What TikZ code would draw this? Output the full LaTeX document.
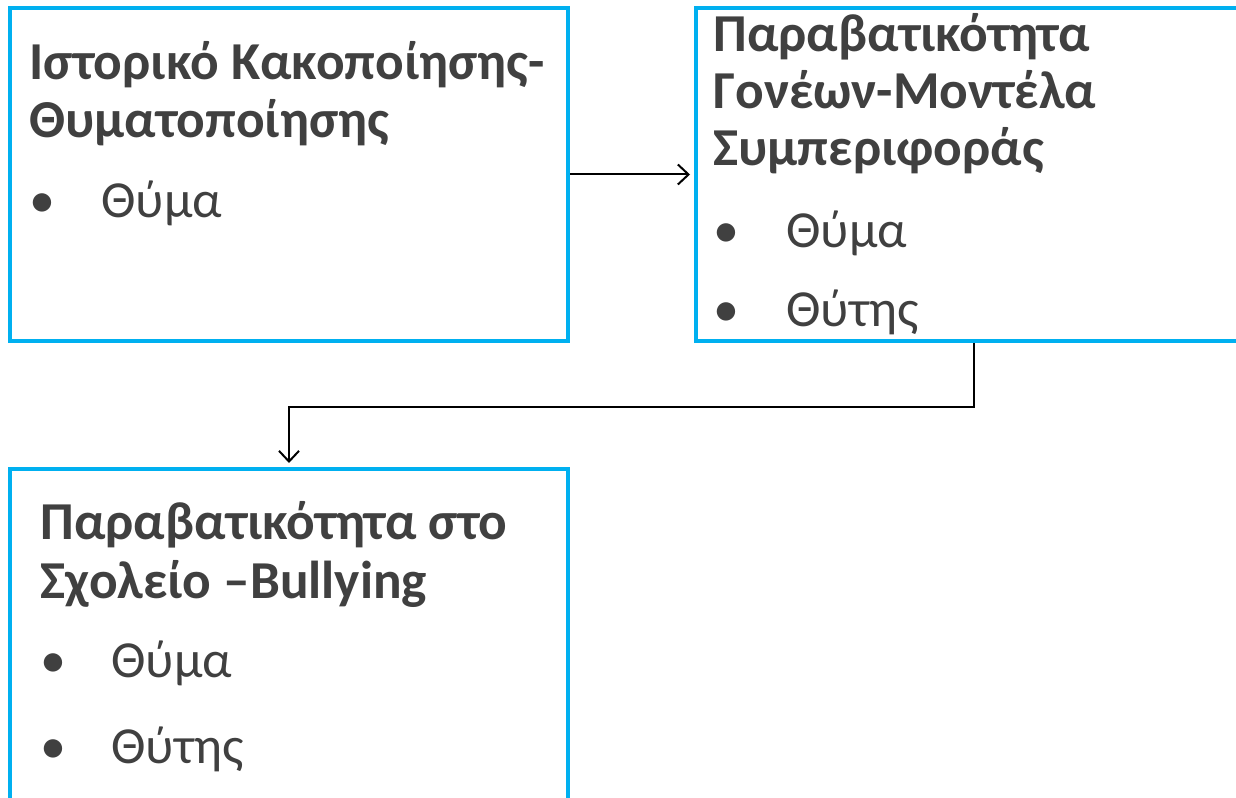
\documentclass[tikz,border=0pt]{standalone}
\usepackage{fontspec}
\setmainfont{Carlito}
\usetikzlibrary{arrows.meta}

\definecolor{boxblue}{RGB}{0,176,240}
\definecolor{txtgray}{RGB}{64,64,64}

\tikzset{every picture/.style={line width=0.75pt}}
\tikzset{
  box/.style={draw=boxblue, line width=3pt, rectangle, inner sep=0pt},
  head/.style={text=txtgray, font=\bfseries\fontsize{40}{46}\selectfont, anchor=base west, inner sep=0pt},
  item/.style={text=txtgray, font=\fontsize{39}{46}\selectfont, anchor=base west, inner sep=0pt},
  arr/.style={line width=1.5pt, -{Straight Barb[length=8pt,width=15pt]}, shorten >=3pt}
}

\begin{document}
\begin{tikzpicture}[x=0.75pt,y=0.75pt,yscale=-1,xscale=1]
\useasboundingbox (0,0) rectangle (1236,798);

%Shape: Rectangle [id:hist]
\node[box, minimum width=418.5pt, minimum height=249.75pt] (hist) at (289,174.5) {};
%Shape: Rectangle [id:parent]
\node[box, minimum width=417pt, minimum height=249.75pt] (parent) at (974,174.5) {};
%Shape: Rectangle [id:school]
\node[box, minimum width=418.5pt, minimum height=255.75pt] (school) at (289,639.5) {};

%Straight Lines [id:arrA]
\draw[arr] (hist.east) -- (parent.west);
%Elbow Lines [id:arrB]
\draw[arr] (parent.south) -- ++(0,64) -| (school.north);

% Text Node
\node[head] (histA) at (29,80) {Ιστορικό Κακοποίησης-};
% Text Node
\node[head] (histB) at (29,138) {Θυματοποίησης};
% Text Node
\node[item] (histDot) at (29,218) {•};
% Text Node
\node[item] (histV) at (101,218) {Θύμα};

% Text Node
\node[head] (parA) at (713,52) {Παραβατικότητα};
% Text Node
\node[head] (parB) at (713,109) {Γονέων-Μοντέλα};
% Text Node
\node[head] (parC) at (713,166) {Συμπεριφοράς};
% Text Node
\node[item] (parDotA) at (713,248) {•};
% Text Node
\node[item] (parV) at (786,248) {Θύμα};
% Text Node
\node[item] (parDotB) at (713,327) {•};
% Text Node
\node[item] (parP) at (786,327) {Θύτης};

% Text Node
\node[head] (schA) at (40,540) {Παραβατικότητα στο};
% Text Node
\node[head] (schB) at (40,598) {Σχολείο –Bullying};
% Text Node
\node[item] (schDotA) at (40,677) {•};
% Text Node
\node[item] (schV) at (111,677) {Θύμα};
% Text Node
\node[item] (schDotB) at (40,763) {•};
% Text Node
\node[item] (schP) at (111,763) {Θύτης};

\end{tikzpicture}
\end{document}
